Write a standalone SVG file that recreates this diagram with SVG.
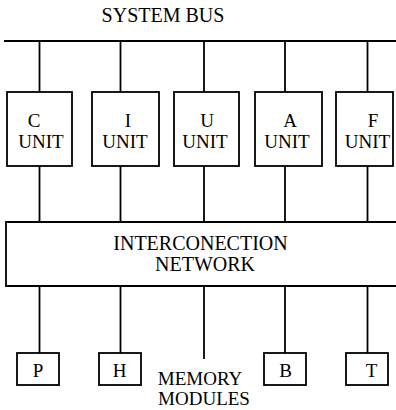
<svg xmlns="http://www.w3.org/2000/svg" width="396" height="410" viewBox="0 0 396 410">
<style>
.ln{stroke:#000;stroke-width:1.8;fill:none}
.bx{stroke:#000;stroke-width:1.8;fill:#fff}
text{font-family:"Liberation Serif","Times New Roman",serif;font-size:19px;fill:#000;text-anchor:middle}
.big{font-size:20px}
</style>
<rect width="396" height="410" fill="#fff"/>
<text class="big" x="163" y="22">SYSTEM BUS</text>
<g id="connectors">
<line class="ln" x1="4" y1="41" x2="396" y2="41"/>
<line class="ln" x1="39.5" y1="41" x2="39.5" y2="92"/>
<line class="ln" x1="120.5" y1="41" x2="120.5" y2="92"/>
<line class="ln" x1="204" y1="41" x2="204" y2="92"/>
<line class="ln" x1="285" y1="41" x2="285" y2="92"/>
<line class="ln" x1="367.5" y1="41" x2="367.5" y2="92"/>
<line class="ln" x1="39.5" y1="166" x2="39.5" y2="222"/>
<line class="ln" x1="120.5" y1="166" x2="120.5" y2="222"/>
<line class="ln" x1="204" y1="166" x2="204" y2="222"/>
<line class="ln" x1="285" y1="166" x2="285" y2="222"/>
<line class="ln" x1="367.5" y1="166" x2="367.5" y2="222"/>
<line class="ln" x1="39.5" y1="286" x2="39.5" y2="353"/>
<line class="ln" x1="120.5" y1="286" x2="120.5" y2="353"/>
<line class="ln" x1="204" y1="286" x2="204" y2="359"/>
<line class="ln" x1="285" y1="286" x2="285" y2="353"/>
<line class="ln" x1="367.5" y1="286" x2="367.5" y2="353"/>
</g>
<g id="unitC"><rect class="bx" x="7" y="92" width="65" height="74"/><text x="34" y="127">C</text><text x="41" y="148">UNIT</text></g>
<g id="unitI"><rect class="bx" x="92" y="92" width="67" height="74"/><text x="128" y="127">I</text><text x="125" y="148">UNIT</text></g>
<g id="unitU"><rect class="bx" x="174" y="92" width="65" height="74"/><text x="207" y="127">U</text><text x="205" y="148">UNIT</text></g>
<g id="unitA"><rect class="bx" x="255" y="92" width="67" height="74"/><text x="290" y="127">A</text><text x="287" y="148">UNIT</text></g>
<g id="unitF"><rect class="bx" x="336" y="92" width="57" height="74"/><text x="373" y="127">F</text><text x="367.5" y="148">UNIT</text></g>
<g id="network"><path class="ln" d="M396,222 H6 V286 H396"/><text class="big" x="200.5" y="250">INTERCONECTION</text><text class="big" x="205" y="271">NETWORK</text></g>
<g id="memP"><rect class="bx" x="17" y="353" width="42" height="32"/><text x="38" y="377">P</text></g>
<g id="memH"><rect class="bx" x="99" y="353" width="42" height="32"/><text x="119.5" y="377">H</text></g>
<g id="memB"><rect class="bx" x="264" y="353" width="42" height="32"/><text x="285.5" y="377">B</text></g>
<g id="memT"><rect class="bx" x="346" y="353" width="42" height="32"/><text x="371.5" y="377">T</text></g>
<g id="memLabel"><text x="200" y="385">MEMORY</text><text x="204" y="405">MODULES</text></g>
</svg>
